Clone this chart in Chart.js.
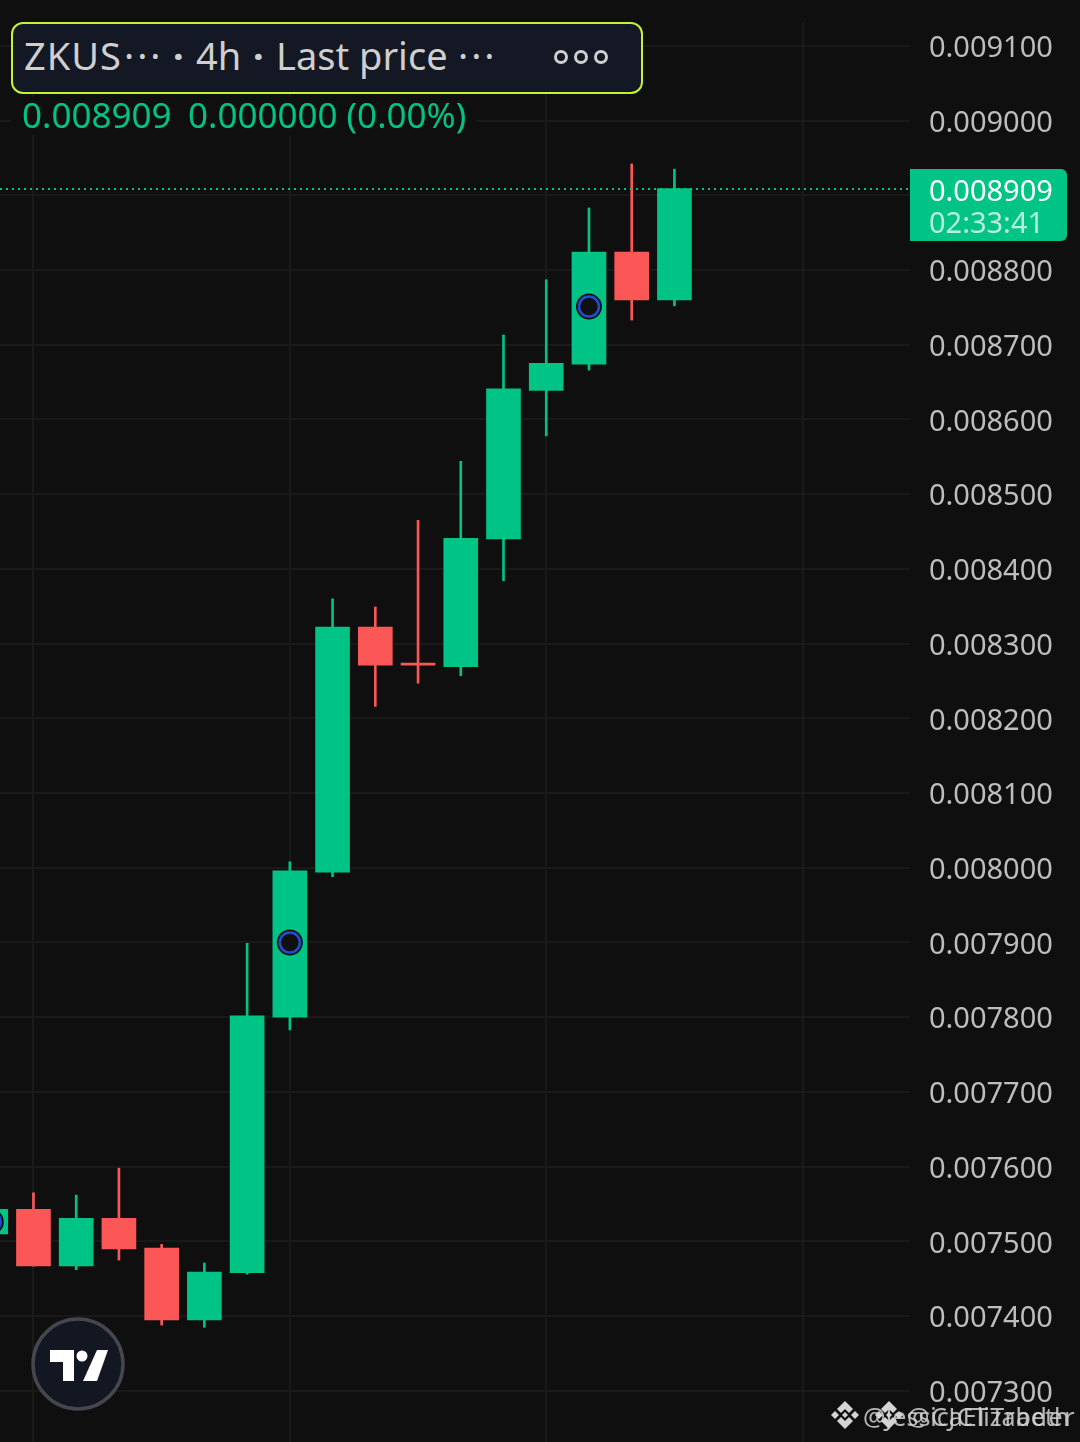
<!DOCTYPE html>
<html>
<head>
<meta charset="utf-8">
<title>ZKUS 4h</title>
<script src="https://cdn.jsdelivr.net/npm/chart.js@4"></script>
<style>
html, body { margin: 0; padding: 0; background: #0f0f0f; }
#wrap { position: relative; width: 1080px; height: 1442px; overflow: hidden; font-family: "Noto Sans", sans-serif; }
#chart { position: absolute; left: 0; top: 0; }
.abs { position: absolute; white-space: pre; }
#head { left: 11px; top: 22px; width: 628px; height: 68px; background: #131824; border: 2px solid #c4f235; border-radius: 12px; }
.headText { color: #cfcfcf; font-size: 38px; line-height: 52px; top: 29px; }
.dot { width: 8px; height: 8px; border: 3px solid #cfcfcf; border-radius: 50%; top: 50px; }
#legendRow { left: 11px; top: 97px; width: 465px; height: 38px; background: #0f0f0f; }
.legendText { color: #00c386; font-size: 35px; line-height: 44px; top: 93px; }
.mark { color: #d4d4d4; font-size: 25px; line-height: 30px; top: 1401px; opacity: .85; }
</style>
</head>
<body>
<div id="wrap">
  <canvas id="chart" width="1080" height="1442"></canvas>
  <div class="abs" id="head"></div>
  <div class="abs headText" style="left:24px;letter-spacing:1px">ZKUS</div>
  <div class="abs headText" style="left:124px;letter-spacing:3px">···</div>
  <div class="abs headText" style="left:173px;font-weight:700">·</div>
  <div class="abs headText" style="left:196px">4h</div>
  <div class="abs headText" style="left:253px;font-weight:700">·</div>
  <div class="abs headText" style="left:276px">Last price</div>
  <div class="abs headText" style="left:458px;letter-spacing:3px">···</div>
  <div class="abs dot" style="left:554px"></div>
  <div class="abs dot" style="left:574px"></div>
  <div class="abs dot" style="left:594px"></div>
  <div class="abs" id="legendRow"></div>
  <div class="abs legendText" style="left:22px">0.008909</div>
  <div class="abs legendText" style="left:188px">0.000000 (0.00%)</div>
  <svg class="abs" style="left:0;top:1300px" width="160" height="142">
    <circle cx="78" cy="64" r="45" fill="#131722" stroke="#45474f" stroke-width="3.5"/>
    <polygon points="50,50 74,50 74,81 63,81 63,62 50,62" fill="#fff"/>
    <circle cx="82" cy="56" r="5.5" fill="#fff"/>
    <polygon points="97,50 108,50 97,81 83,81" fill="#fff"/>
  </svg>
  <svg class="abs" style="left:828px;top:1398px" width="80" height="36" fill="#d4d4d4">
    <g id="bn"><polygon points="17,3 25,11 21,15 17,11 13,15 9,11"/><polygon points="17,31 25,23 21,19 17,23 13,19 9,23"/>
    <polygon points="3,17 7,13 11,17 7,21"/><polygon points="31,17 27,13 23,17 27,21"/><polygon points="17,14 20,17 17,20 14,17"/></g>
    <use href="#bn" x="44"/>
  </svg>
  <div class="abs mark" style="left:863px">@JessicaElizabeth</div>
  <div class="abs mark" style="left:907px;letter-spacing:1.6px">@CJCTTrader</div>
</div>
<script>
// bar numbers on the time axis, 0 is the candle cut off at the left edge
const candleIdx = [0, 1, 2, 3, 4, 5, 6, 7, 8, 9, 10, 11, 12, 13, 14, 15, 16];
const opens  = [0.007510, 0.007543, 0.007467, 0.007531, 0.007491, 0.007395, 0.007458, 0.007800, 0.007994, 0.008322, 0.008274, 0.008269, 0.008440, 0.008639, 0.008674, 0.008824, 0.008760];
const closes = [0.007543, 0.007467, 0.007531, 0.007490, 0.007395, 0.007459, 0.007802, 0.007996, 0.008322, 0.008271, 0.008271, 0.008441, 0.008641, 0.008675, 0.008824, 0.008760, 0.008909];
const highs  = [0.007543, 0.007565, 0.007562, 0.007598, 0.007496, 0.007471, 0.007899, 0.008008, 0.008360, 0.008349, 0.008465, 0.008544, 0.008713, 0.008787, 0.008883, 0.008942, 0.008935];
const lows   = [0.007510, 0.007467, 0.007462, 0.007475, 0.007388, 0.007385, 0.007456, 0.007783, 0.007988, 0.008216, 0.008247, 0.008257, 0.008384, 0.008578, 0.008666, 0.008733, 0.008752];
const isUp   = [true, false, true, false, false, true, true, true, true, false, false, true, true, true, true, false, true];

const markIdx = [0, 7, 14];
const markPrice = [0.007526, 0.007900, 0.008751];

const gridIdx = [1, 7, 13, 19];
const priceTicks = ['0.007300', '0.007400', '0.007500', '0.007600', '0.007700', '0.007800', '0.007900', '0.008000', '0.008100', '0.008200', '0.008300', '0.008400', '0.008500', '0.008600', '0.008700', '0.008800', '0.008900', '0.009000', '0.009100'];

const lastPrice = 0.008909;
const lastPriceText = '0.008909';
const countdown = '02:33:41';

const GREEN = '#00c386';
const RED = '#fb5757';
const GRID = '#191919';
const tickFont = { family: '"Noto Sans", sans-serif', size: 29 };

const colors = isUp.map((up) => up ? GREEN : RED);

// dotted last price line and the green tag on the price axis
const lastPricePlugin = {
    id: 'lastPrice',
    afterDatasetsDraw(chart) {
        const { ctx, chartArea, scales } = chart;
        const y = Math.round(scales.y.getPixelForValue(lastPrice));
        ctx.save();
        ctx.strokeStyle = GREEN;
        ctx.lineWidth = 2;
        ctx.setLineDash([2, 4]);
        ctx.beginPath();
        ctx.moveTo(0, y);
        ctx.lineTo(chartArea.right, y);
        ctx.stroke();
        ctx.setLineDash([]);
        ctx.fillStyle = GREEN;
        ctx.beginPath();
        ctx.roundRect(chartArea.right, y - 20, 157, 72, [0, 6, 6, 0]);
        ctx.fill();
        ctx.font = '29px "Noto Sans", sans-serif';
        ctx.textBaseline = 'middle';
        ctx.textAlign = 'left';
        ctx.fillStyle = '#ffffff';
        ctx.fillText(lastPriceText, chartArea.right + 19, y + 4);
        ctx.fillStyle = 'rgba(255,255,255,0.72)';
        ctx.fillText(countdown, chartArea.right + 19, y + 36);
        ctx.restore();
    }
};

const ctx = document.getElementById('chart').getContext('2d');
const myChart = new Chart(ctx, {
    type: 'bar',
    data: {
        datasets: [
            {
                type: 'line',
                label: 'mark',
                data: markIdx.map((x, i) => ({ x: x, y: markPrice[i] })),
                showLine: false,
                pointRadius: 10,
                pointBorderWidth: 2.5,
                pointBackgroundColor: '#101010',
                pointBorderColor: '#1f4fd0',
                order: 0
            },
            {
                type: 'line',
                label: 'mark ring',
                data: markIdx.map((x, i) => ({ x: x, y: markPrice[i] })),
                showLine: false,
                pointRadius: 13,
                pointBorderWidth: 0,
                pointBackgroundColor: '#101010',
                order: 1
            },
            {
                label: 'body',
                data: candleIdx.map((x, i) => ({ x: x, y: [opens[i], closes[i]] })),
                backgroundColor: colors,
                barThickness: 34,
                grouped: false,
                minBarLength: 2,
                order: 2
            },
            {
                label: 'wick',
                data: candleIdx.map((x, i) => ({ x: x, y: [lows[i], highs[i]] })),
                backgroundColor: colors,
                barThickness: 2,
                grouped: false,
                order: 3
            }
        ]
    },
    options: {
        responsive: false,
        animation: false,
        devicePixelRatio: 1,
        layout: { autoPadding: false, padding: { top: 22, left: 0, right: 0, bottom: 0 } },
        plugins: { legend: { display: false }, tooltip: { enabled: false } },
        scales: {
            x: {
                type: 'linear',
                offset: false,
                min: 0.217,
                max: 21.513,
                afterBuildTicks: (scale) => { scale.ticks = gridIdx.map((v) => ({ value: v })); },
                afterFit: (scale) => {
                    scale.height = 0;
                    scale.paddingLeft = 0;
                    scale.paddingRight = 0;
                },
                ticks: { display: false },
                border: { display: false },
                grid: { color: GRID, lineWidth: 2, drawTicks: false, offset: false }
            },
            y: {
                position: 'right',
                min: 0.0072315,
                max: 0.0091319,
                afterBuildTicks: (scale) => { scale.ticks = priceTicks.map((v) => ({ value: +v, label: v })); },
                afterFit: (scale) => {
                    scale.width = 170;
                    scale.paddingTop = 0;
                    scale.paddingBottom = 0;
                },
                ticks: {
                    padding: 19,
                    labelOffset: 3,
                    color: '#bdbdbd',
                    font: tickFont,
                    callback: (v) => v.toFixed(6)
                },
                border: { display: false },
                grid: { color: GRID, lineWidth: 2, drawTicks: false }
            }
        }
    },
    plugins: [lastPricePlugin]
});
</script>
</body>
</html>
